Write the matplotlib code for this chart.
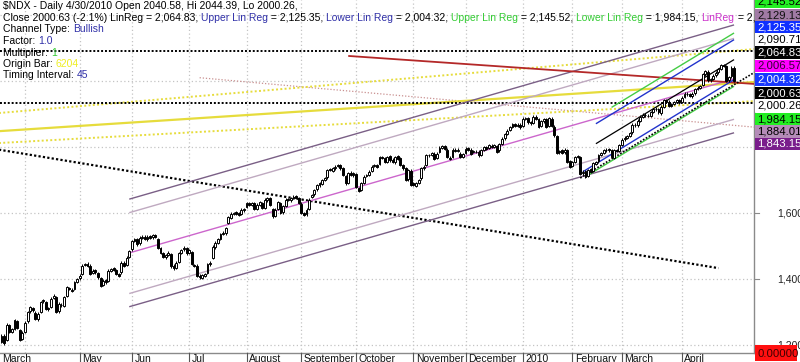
import matplotlib
matplotlib.use('Agg')
import matplotlib.pyplot as plt
import numpy as np
from matplotlib.patches import Rectangle

plt.rcParams['font.family'] = ['Liberation Sans', 'DejaVu Sans']

# ---------------- data ----------------
month_names = ["March", "", "May", "Jun", "Jul", "August", "September", "October",
               "November", "December", "2010", "February", "March", "April"]
month_lengths = [9, 21, 20, 22, 22, 21, 21, 22, 20, 22, 19, 19, 23, 21]

close_mar09 = [1228, 1205, 1262, 1240, 1248, 1275, 1252, 1215, 1237]
close_apr09 = [1268, 1300, 1315, 1305, 1280, 1295, 1330, 1335, 1310, 1312, 1340, 1350, 1300, 1325, 1320, 1345, 1375, 1370, 1365, 1390, 1400]
close_may09 = [1410, 1440, 1445, 1440, 1415, 1425, 1420, 1405, 1380, 1395, 1390, 1425, 1430, 1428, 1415, 1410, 1450, 1440, 1465, 1485]
close_jun09 = [1515, 1520, 1505, 1525, 1528, 1522, 1528, 1525, 1532, 1528, 1495, 1480, 1468, 1472, 1480, 1438, 1432, 1450, 1478, 1488, 1495, 1478]
close_jul09 = [1488, 1445, 1440, 1410, 1405, 1412, 1415, 1445, 1450, 1498, 1510, 1520, 1535, 1540, 1555, 1588, 1598, 1600, 1598, 1595, 1610, 1612]
close_aug09 = [1630, 1625, 1630, 1612, 1625, 1632, 1615, 1640, 1645, 1625, 1590, 1610, 1632, 1600, 1620, 1640, 1640, 1645, 1650, 1645, 1630]
close_sep09 = [1600, 1595, 1610, 1640, 1655, 1670, 1685, 1690, 1700, 1705, 1730, 1730, 1735, 1740, 1745, 1735, 1715, 1690, 1720, 1715, 1720]
close_oct09 = [1680, 1668, 1690, 1710, 1715, 1725, 1740, 1745, 1740, 1770, 1768, 1755, 1770, 1760, 1755, 1770, 1765, 1745, 1735, 1700, 1730, 1685]
close_nov09 = [1685, 1690, 1700, 1735, 1740, 1775, 1775, 1782, 1765, 1780, 1798, 1802, 1795, 1770, 1765, 1792, 1788, 1792, 1770, 1778]
close_dec09 = [1795, 1792, 1780, 1788, 1785, 1775, 1790, 1800, 1795, 1805, 1800, 1805, 1785, 1808, 1825, 1838, 1850, 1860, 1870, 1865, 1868, 1860]
close_jan10 = [1886, 1888, 1875, 1872, 1892, 1885, 1862, 1878, 1885, 1862, 1888, 1865, 1835, 1782, 1788, 1782, 1792, 1755, 1740]
close_feb10 = [1755, 1770, 1772, 1718, 1725, 1710, 1730, 1725, 1752, 1755, 1775, 1782, 1790, 1792, 1790, 1770, 1790, 1788, 1805]
close_mar10 = [1822, 1828, 1832, 1842, 1868, 1866, 1880, 1892, 1898, 1896, 1894, 1905, 1915, 1914, 1905, 1922, 1942, 1936, 1925, 1930, 1936, 1942, 1935]
close_apr10 = [1950, 1962, 1960, 1955, 1962, 1975, 1980, 1985, 2020, 2030, 2002, 2006, 2016, 2025, 2035, 2048, 2045, 2000, 2012, 2040, 2000.63]

open_mar09 = [1210, 1228, 1215, 1260, 1240, 1250, 1272, 1245, 1218]
open_apr09 = [1240, 1272, 1302, 1312, 1298, 1278, 1300, 1332, 1330, 1308, 1315, 1342, 1345, 1302, 1322, 1318, 1350, 1372, 1368, 1370, 1392]
open_may09 = [1402, 1415, 1442, 1447, 1440, 1418, 1427, 1418, 1402, 1382, 1397, 1395, 1425, 1432, 1426, 1414, 1420, 1450, 1442, 1468]
open_jun09 = [1490, 1516, 1520, 1508, 1525, 1528, 1520, 1530, 1526, 1533, 1520, 1493, 1478, 1466, 1474, 1475, 1440, 1434, 1452, 1480, 1490, 1494]
open_jul09 = [1480, 1482, 1443, 1440, 1410, 1404, 1410, 1418, 1444, 1465, 1496, 1510, 1522, 1537, 1538, 1570, 1586, 1597, 1602, 1600, 1598, 1608]
open_aug09 = [1618, 1630, 1624, 1630, 1612, 1625, 1630, 1616, 1638, 1644, 1612, 1592, 1612, 1630, 1602, 1622, 1642, 1638, 1645, 1652, 1646]
open_sep09 = [1628, 1600, 1596, 1612, 1650, 1657, 1672, 1684, 1688, 1700, 1708, 1732, 1728, 1735, 1742, 1746, 1735, 1712, 1692, 1722, 1714]
open_oct09 = [1718, 1675, 1670, 1692, 1712, 1716, 1727, 1742, 1745, 1750, 1770, 1766, 1756, 1772, 1762, 1754, 1772, 1767, 1746, 1735, 1702, 1728]
open_nov09 = [1690, 1682, 1692, 1705, 1735, 1745, 1776, 1776, 1780, 1768, 1785, 1798, 1802, 1792, 1768, 1770, 1792, 1788, 1780, 1770]
open_dec09 = [1782, 1796, 1792, 1785, 1786, 1786, 1776, 1792, 1800, 1798, 1804, 1800, 1803, 1790, 1810, 1826, 1840, 1852, 1862, 1870, 1864, 1868]
open_jan10 = [1865, 1886, 1888, 1876, 1874, 1892, 1884, 1864, 1878, 1884, 1865, 1886, 1862, 1832, 1784, 1790, 1784, 1790, 1757]
open_feb10 = [1742, 1756, 1770, 1770, 1720, 1727, 1712, 1732, 1727, 1750, 1757, 1776, 1783, 1790, 1793, 1790, 1768, 1790, 1788]
open_mar10 = [1807, 1823, 1828, 1833, 1844, 1868, 1866, 1880, 1891, 1898, 1895, 1894, 1906, 1916, 1914, 1902, 1922, 1942, 1937, 1924, 1930, 1936, 1942]
open_apr10 = [1937, 1952, 1962, 1960, 1954, 1963, 1976, 1980, 1988, 2020, 2028, 2002, 2006, 2017, 2026, 2036, 2048, 2044, 2002, 2014, 2040.58]

# trend lines: (bar index, price) end points
desc_dotted = [(-1, 1792), (275, 1433)]
red_line = [(133, 2076), (289, 1991)]
yellow_solid = [(-1, 1848), (289, 1997)]
yellow_dot_hi = [(-1, 1903), (289, 2097)]
yellow_dot_lo = [(-1, 1812), (289, 1939)]
rose_dotted = [(76, 2010), (289, 1860)]
hline_values = [2090.71, 1933]

linreg_mid = [(49, 1479), (281, 2006.57)]
upper_light = [(49, 1601), (281, 2129.13)]
lower_light = [(49, 1356), (281, 1884.01)]
upper_dark = [(49, 1642), (281, 2170)]
lower_dark = [(49, 1316), (281, 1843.15)]

short_mid = [(228, 1810), (281, 2064.83)]
blue_upper = [(228, 1870.5), (281, 2125.35)]
blue_lower = [(223, 1725), (281, 2004.32)]
green_upper = [(234, 1920), (281, 2145.52)]
green_lower = [(224, 1710), (281, 1984.15)]
short_dotted = [(222, 1706), (289, 2027)]

right_values = ["2,145.52", "2,129.13", "2,125.35", "2,090.71", "2,064.83", "2,006.57",
                "2,004.32", "2,000.63", "2,000.26", "1,984.15", "1,884.01", "1,843.15"]
right_bg = ["#22ee22", "#a07aa4", "#1030ff", "#ffffff", "#000000", "#ff00ff",
            "#1838ff", "#000000", "#ffffff", "#22ee22", "#b48cb8", "#7a1e8c"]
right_fg = ["#000000", "#111111", "#ffffff", "#000000", "#ffffff", "#330033",
            "#ffffff", "#ffffff", "#000000", "#000000", "#000000", "#ffffff"]
right_y_px = [1.5, 15, 27.5, 39.5, 52.5, 66, 79.5, 93, 106, 119, 131.5, 144]

price_ticks = [1200, 1400, 1600, 1800, 2000, 2200]
price_tick_labels = ["1,200", "1,400", "1,600"]

# ---------------- figure ----------------
W, H = 800, 362
fig = plt.figure(figsize=(W / 100, H / 100), dpi=100)
fig.patch.set_facecolor('white')
ax = fig.add_axes([0, 9 / H, 754 / W, 353 / H])
ax.set_xlim(-0.575, 288.65)
ax.set_ylim(1175.8, 2245.5)
ax.set_facecolor('white')
for s in ['top', 'left']:
    ax.spines[s].set_visible(False)
for s in ['right', 'bottom']:
    ax.spines[s].set_color('#8a8a8a')
    ax.spines[s].set_linewidth(1.0)
ax.set_xticks([])
ax.set_yticks([])

closes = np.array(close_mar09 + close_apr09 + close_may09 + close_jun09 + close_jul09 + close_aug09 +
                  close_sep09 + close_oct09 + close_nov09 + close_dec09 + close_jan10 + close_feb10 +
                  close_mar10 + close_apr10, dtype=float)
opens = np.array(open_mar09 + open_apr09 + open_may09 + open_jun09 + open_jul09 + open_aug09 +
                 open_sep09 + open_oct09 + open_nov09 + open_dec09 + open_jan10 + open_feb10 +
                 open_mar10 + open_apr10, dtype=float)
n = len(closes)
idx = np.arange(n)
month_start = np.concatenate([[0], np.cumsum(month_lengths)[:-1]])

# grid
grid_col = '#c4c4c4'
for p in price_ticks:
    ax.axhline(p, color=grid_col, lw=0.9, ls=(0, (1, 2)), zorder=0)
for ms in month_start[1:]:
    ax.axvline(ms, color=grid_col, lw=0.9, ls=(0, (1, 2)), zorder=0)


def seg(pts, **kw):
    (x0, y0), (x1, y1) = pts
    ax.plot([x0, x1], [y0, y1], solid_capstyle='butt', **kw)


# long lines
seg(rose_dotted, color='#c99090', lw=0.9, ls=(0, (1, 1.5)), zorder=2)
seg(yellow_solid, color='#e6dc3c', lw=1.6, zorder=2)
seg(yellow_dot_hi, color='#e6dc3c', lw=1.4, ls=(0, (1, 1.2)), zorder=2)
seg(yellow_dot_lo, color='#e6dc3c', lw=1.4, ls=(0, (1, 1.2)), zorder=2)
for hv in hline_values:
    ax.axhline(hv, color='black', lw=1.4, ls=(0, (1, 1)), zorder=2)
seg(desc_dotted, color='black', lw=1.6, ls=(0, (1, 1)), zorder=2)
seg(red_line, color='#b42828', lw=1.3, zorder=3)

seg(upper_dark, color='#7a5f86', lw=1.0, zorder=2)
seg(lower_dark, color='#7a5f86', lw=1.0, zorder=2)
seg(upper_light, color='#bfa9c0', lw=1.0, zorder=2)
seg(lower_light, color='#bfa9c0', lw=1.0, zorder=2)
seg(linreg_mid, color='#cc66cc', lw=1.0, zorder=2)

seg(green_upper, color='#44cc44', lw=1.0, zorder=3)
seg(green_lower, color='#44cc44', lw=1.0, zorder=3)
seg(blue_upper, color='#2233cc', lw=1.0, zorder=3)
seg(blue_lower, color='#2233cc', lw=1.0, zorder=3)
seg(short_mid, color='black', lw=0.9, zorder=3)
seg(short_dotted, color='black', lw=1.2, ls=(0, (1, 1)), zorder=3)

# candles
up = closes >= opens
lo = np.minimum(opens, closes)
hi = np.maximum(opens, closes)
ax.vlines(idx, lo - 4, hi + 4, color='black', lw=0.7, zorder=4)
body_h = np.maximum(hi - lo, 1.0)
ax.bar(idx[up], body_h[up], bottom=lo[up], width=0.72, color='white', edgecolor='black', lw=0.7, zorder=5)
ax.bar(idx[~up], body_h[~up], bottom=lo[~up], width=0.72, color='black', edgecolor='black', lw=0.7, zorder=5)

# price tick labels on the right
for p, lab in zip(price_ticks, price_tick_labels):
    yf = ax.transData.transform((0, p))[1] / H
    fig.text(777 / W, yf, lab, fontsize=7.5, color='#222222', va='center', ha='left')
    fig.add_artist(plt.Line2D([754 / W, 759 / W], [yf, yf], color='#8a8a8a', lw=0.8))

# month labels
fs = 7.5
for name, ms in zip(month_names, month_start):
    if not name:
        continue
    xpx = ax.transData.transform((ms, 0))[0]
    if ms == 0:
        xpx = 0
    else:
        fig.add_artist(plt.Line2D([xpx / W, xpx / W], [0, 9 / H], color='#555555', lw=0.8))
    fig.text((xpx + 2.5) / W, 1 - 359 / H, name, fontsize=fs, color='#111111', va='center', ha='left')

# right-side value labels
for val, bg, fg, yp in zip(right_values, right_bg, right_fg, right_y_px):
    r = Rectangle((755 / W, 1 - (yp + 6.3) / H), 45 / W, 12.6 / H, transform=fig.transFigure,
                  facecolor=bg, edgecolor='none', zorder=10)
    fig.add_artist(r)
    t = fig.text(757 / W, 1 - yp / H, val, fontsize=8.2, color=fg, va='center', ha='left', zorder=11)
r = Rectangle((755 / W, 1 - 361 / H), 42 / W, 16 / H, transform=fig.transFigure,
              facecolor='#ff1010', edgecolor='none', zorder=10)
fig.add_artist(r)
fig.text(757 / W, 1 - 354 / H, "0.00000", fontsize=8.2, color='#400000', va='center', ha='left', zorder=11)

# header text with coloured pieces
renderer = fig.canvas.get_renderer()
BLUE = '#3030a8'
GREEN = '#33cc33'
MAG = '#cc33cc'
YEL = '#eeee22'
header_lines = [
    [("$NDX - Daily 4/30/2010 Open 2040.58, Hi 2044.39, Lo 2000.26,", 'black')],
    [("Close 2000.63 (-2.1%) LinReg = 2,064.83, ", 'black'), ("Upper Lin Reg", BLUE),
     (" = 2,125.35, ", 'black'), ("Lower Lin Reg", BLUE), (" = 2,004.32, ", 'black'),
     ("Upper Lin Reg", GREEN), (" = 2,145.52, ", 'black'), ("Lower Lin Reg", GREEN),
     (" = 1,984.15, ", 'black'), ("LinReg", MAG), (" = 2,006.57", 'black')],
    [("Channel Type: ", 'black'), ("Bullish", BLUE)],
    [("Factor: ", 'black'), ("1.0", BLUE)],
    [("Multiplier: ", 'black'), ("1", GREEN)],
    [("Origin Bar: ", 'black'), ("6204", YEL)],
    [("Timing Interval: ", 'black'), ("45", BLUE)],
]
line_y = [6, 18, 29.5, 41, 52.5, 64, 75.5]


def text_width(s):
    t = fig.text(0, 0, s + "|", fontsize=fs)
    t2 = fig.text(0, 0, "|", fontsize=fs)
    w = t.get_window_extent(renderer).width - t2.get_window_extent(renderer).width
    t.remove()
    t2.remove()
    return w


for li, (parts, yp) in enumerate(zip(header_lines, line_y)):
    prefix = ""
    for s, col in parts:
        xpx = 3 + (text_width(prefix) if prefix else 0)
        fig.text(xpx / W, 1 - yp / H, s, fontsize=fs, color=col, va='center', ha='left', zorder=8)
        prefix += s

fig.savefig('out.png', dpi=100, facecolor='white')
